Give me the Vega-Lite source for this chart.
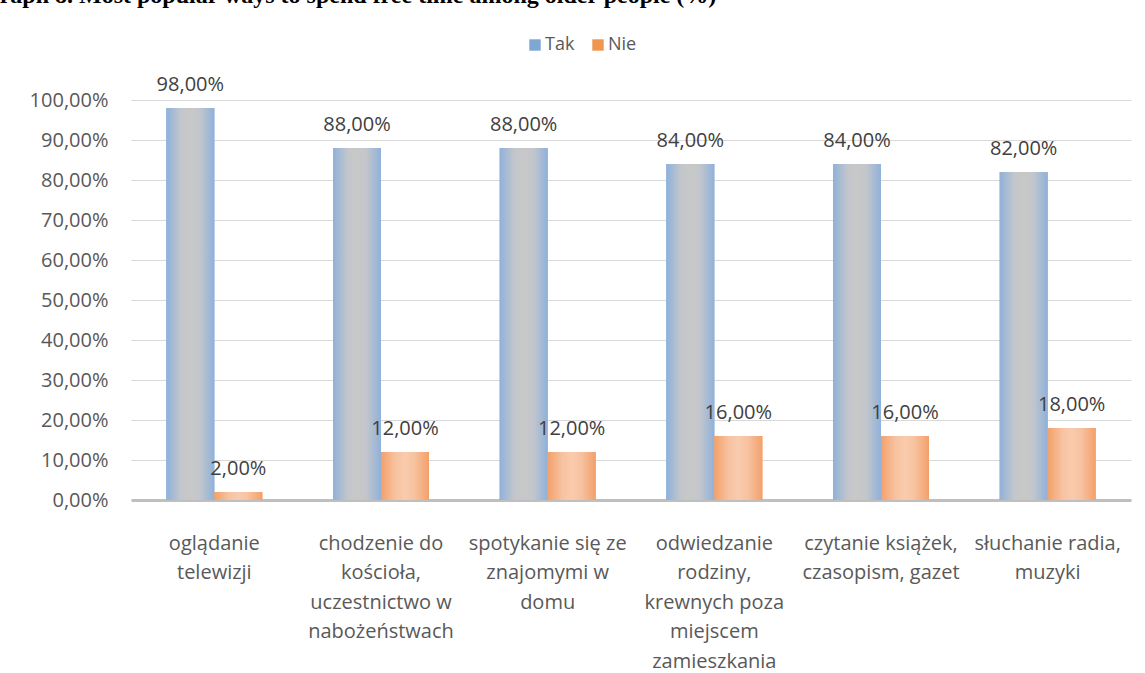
{
  "$schema": "https://vega.github.io/schema/vega-lite/v6.json",
  "width": 1000,
  "height": 400,
  "autosize": {"type": "none"},
  "padding": {"left": 131, "top": 100, "right": 14, "bottom": 173},
  "background": "#ffffff",
  "title": {
    "text": "Graph 8. Most popular ways to spend free time among older people (%)",
    "anchor": "start",
    "frame": "group",
    "dx": -150,
    "dy": 13,
    "offset": 22,
    "font": "Liberation Serif",
    "fontSize": 24,
    "fontWeight": "bold",
    "color": "#000000",
    "baseline": "alphabetic"
  },
  "data": {
    "values": [
      {"cat": "oglądanie|telewizji", "s": "Tak", "v": 0.98},
      {"cat": "oglądanie|telewizji", "s": "Nie", "v": 0.02},
      {"cat": "chodzenie do|kościoła,|uczestnictwo w|nabożeństwach", "s": "Tak", "v": 0.88},
      {"cat": "chodzenie do|kościoła,|uczestnictwo w|nabożeństwach", "s": "Nie", "v": 0.12},
      {"cat": "spotykanie się ze|znajomymi w|domu", "s": "Tak", "v": 0.88},
      {"cat": "spotykanie się ze|znajomymi w|domu", "s": "Nie", "v": 0.12},
      {"cat": "odwiedzanie|rodziny,|krewnych poza|miejscem|zamieszkania", "s": "Tak", "v": 0.84},
      {"cat": "odwiedzanie|rodziny,|krewnych poza|miejscem|zamieszkania", "s": "Nie", "v": 0.16},
      {"cat": "czytanie książek,|czasopism, gazet", "s": "Tak", "v": 0.84},
      {"cat": "czytanie książek,|czasopism, gazet", "s": "Nie", "v": 0.16},
      {"cat": "słuchanie radia,|muzyki", "s": "Tak", "v": 0.82},
      {"cat": "słuchanie radia,|muzyki", "s": "Nie", "v": 0.18}
    ]
  },
  "encoding": {
    "x": {
      "field": "cat",
      "type": "nominal",
      "sort": null,
      "scale": {"paddingInner": 0.424, "paddingOuter": 0.212},
      "axis": {
        "title": null,
        "labelAngle": 0,
        "ticks": false,
        "domainColor": "#bfbfbf",
        "domainWidth": 3,
        "labelExpr": "split(datum.value, '|')",
        "labelLineHeight": 29.5,
        "labelPadding": 33,
        "labelFont": "Open Sans",
        "labelFontSize": 20,
        "labelColor": "#595959",
        "labelOverlap": false,
        "labelLimit": 300,
        "grid": false
      }
    },
    "xOffset": {"field": "s", "type": "nominal", "sort": ["Tak", "Nie"], "scale": {"paddingInner": 0, "paddingOuter": 0}},
    "y": {
      "field": "v",
      "type": "quantitative",
      "scale": {"domain": [0, 1], "nice": false},
      "axis": {
        "title": null,
        "values": [0, 0.1, 0.2, 0.3, 0.4, 0.5, 0.6, 0.7, 0.8, 0.9, 1.0],
        "format": ".2%",
        "domain": false,
        "ticks": false,
        "labelPadding": 23,
        "labelFont": "Open Sans",
        "labelFontSize": 20,
        "labelColor": "#595959",
        "gridColor": "#d9d9d9",
        "gridWidth": 1
      }
    }
  },
  "layer": [
    {
      "mark": {"type": "bar"},
      "encoding": {
        "color": {
          "field": "s",
          "type": "nominal",
          "sort": ["Tak", "Nie"],
          "scale": {"domain": ["Tak", "Nie"], "range": ["#7fa7d3", "#f0964f"]},
          "legend": {
            "title": null,
            "orient": "none",
            "direction": "horizontal",
            "legendX": 395,
            "legendY": -64,
            "symbolType": "square",
            "symbolSize": 130,
            "symbolStrokeWidth": 0,
            "labelFont": "Open Sans",
            "labelFontSize": 18,
            "labelColor": "#595959",
            "labelOffset": 1,
            "columnPadding": 14
          }
        }
      }
    },
    {
      "mark": {"type": "bar"},
      "encoding": {
        "fill": {
          "condition": {
            "test": "datum.s === 'Tak'",
            "value": {
              "gradient": "linear", "x1": 0, "x2": 1, "y1": 0, "y2": 0,
              "stops": [
                {"offset": 0, "color": "#8fb1da"},
                {"offset": 0.3, "color": "#c2c6cc"},
                {"offset": 0.5, "color": "#c8c8c8"},
                {"offset": 0.7, "color": "#c2c6cc"},
                {"offset": 1, "color": "#8fb1da"}
              ]
            }
          },
          "value": {
            "gradient": "linear", "x1": 0, "x2": 1, "y1": 0, "y2": 0,
            "stops": [
              {"offset": 0, "color": "#f3a06a"},
              {"offset": 0.3, "color": "#f7c2a0"},
              {"offset": 0.5, "color": "#f9cbad"},
              {"offset": 0.7, "color": "#f7c2a0"},
              {"offset": 1, "color": "#f3a06a"}
            ]
          }
        }
      }
    },
    {
      "mark": {"type": "text", "baseline": "alphabetic", "dy": -17, "font": "Open Sans", "fontSize": 20, "color": "#404040"},
      "encoding": {
        "text": {"field": "v", "type": "quantitative", "format": ".2%"}
      }
    }
  ],
  "config": {
    "locale": {"number": {"decimal": ",", "thousands": " ", "grouping": [3], "currency": ["", " zł"]}},
    "view": {"stroke": null}
  }
}
